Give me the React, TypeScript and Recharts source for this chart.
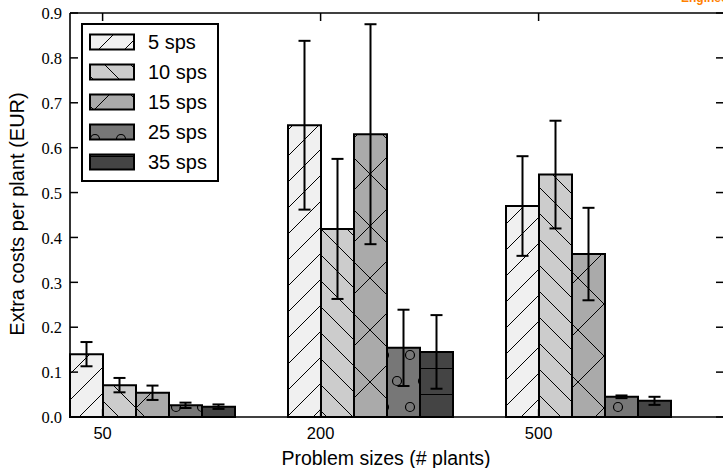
import React from 'react';
import { BarChart, Bar, XAxis, YAxis, ErrorBar, ReferenceLine, Legend } from 'recharts';

const categories = ['50', '200', '500'];
const sps5 = [0.140, 0.650, 0.470];
const sps10 = [0.071, 0.419, 0.540];
const sps15 = [0.054, 0.630, 0.363];
const sps25 = [0.026, 0.154, 0.045];
const sps35 = [0.023, 0.145, 0.036];
const err5 = [0.027, 0.188, 0.111];
const err10 = [0.016, 0.156, 0.120];
const err15 = [0.016, 0.245, 0.103];
const err25 = [0.006, 0.085, 0.003];
const err35 = [0.005, 0.082, 0.009];
const seriesLabels = ['5 sps', '10 sps', '15 sps', '25 sps', '35 sps'];
const seriesKeys = ['s5', 's10', 's15', 's25', 's35'];
const errKeys = ['e5', 'e10', 'e15', 'e25', 'e35'];
const seriesColors = ['#f0f0f0', '#cccccc', '#aaaaaa', '#777777', '#444444'];
const yTicks = [0, 0.1, 0.2, 0.3, 0.4, 0.5, 0.6, 0.7, 0.8, 0.9];

const data = categories.map((c, i) => ({
  name: c,
  s5: sps5[i], s10: sps10[i], s15: sps15[i], s25: sps25[i], s35: sps35[i],
  e5: err5[i], e10: err10[i], e15: err15[i], e25: err25[i], e35: err35[i],
}));

const CHART_W = 740;
const CHART_H = 468;
const PLOT_LEFT = 70;
const PLOT_TOP = 13;
const PLOT_BOTTOM = 417;
const PLOT_RIGHT = 724;
const BAND = (PLOT_RIGHT - PLOT_LEFT) / categories.length;
const CAT_GAP = 27.5;
const BAR_W = (BAND - 2 * CAT_GAP) / 5;

const SANS = '"Liberation Sans", Arial, sans-serif';
const SERIF = '"Liberation Serif", "Times New Roman", serif';

const Patterns = () => (
  <svg width={0} height={0} style={{ position: 'absolute' }}>
    <defs>
      <pattern id="h0" patternUnits="userSpaceOnUse" x={2} y={0} width={26} height={26}>
        <rect width={26} height={26} fill={seriesColors[0]} />
        <line x1={0} y1={26} x2={26} y2={0} stroke="#000" strokeWidth={1} />
        <line x1={-2} y1={2} x2={2} y2={-2} stroke="#000" strokeWidth={1} />
        <line x1={24} y1={28} x2={28} y2={24} stroke="#000" strokeWidth={1} />
      </pattern>
      <pattern id="h1" patternUnits="userSpaceOnUse" x={14} y={0} width={26} height={26}>
        <rect width={26} height={26} fill={seriesColors[1]} />
        <line x1={0} y1={0} x2={26} y2={26} stroke="#000" strokeWidth={1} />
        <line x1={-2} y1={24} x2={2} y2={28} stroke="#000" strokeWidth={1} />
        <line x1={24} y1={-2} x2={28} y2={2} stroke="#000" strokeWidth={1} />
      </pattern>
      <pattern id="h2" patternUnits="userSpaceOnUse" x={344} y={304} width={52} height={52}>
        <rect width={52} height={52} fill={seriesColors[2]} />
        <line x1={0} y1={0} x2={52} y2={52} stroke="#000" strokeWidth={1} />
        <line x1={0} y1={52} x2={52} y2={0} stroke="#000" strokeWidth={1} />
      </pattern>
      <pattern id="h3" patternUnits="userSpaceOnUse" x={397} y={342} width={26} height={52}>
        <rect width={26} height={52} fill={seriesColors[3]} />
        <circle cx={13} cy={13} r={4.5} fill="none" stroke="#000" strokeWidth={1.2} />
        <circle cx={0} cy={39} r={4.5} fill="none" stroke="#000" strokeWidth={1.2} />
        <circle cx={26} cy={39} r={4.5} fill="none" stroke="#000" strokeWidth={1.2} />
      </pattern>
      <pattern id="h4" patternUnits="userSpaceOnUse" x={0} y={4} width={26} height={26}>
        <rect width={26} height={26} fill={seriesColors[4]} />
        <line x1={0} y1={0.5} x2={26} y2={0.5} stroke="#000" strokeWidth={1} />
      </pattern>
    </defs>
  </svg>
);

const XTick = (props: any) => {
  const { x, payload } = props;
  const tx = x - 1.5 * BAR_W;
  return (
    <g>
      <line x1={tx} x2={tx} y1={PLOT_TOP} y2={PLOT_TOP + 8} stroke="#000" strokeWidth={1.5} />
      <line x1={tx} x2={tx} y1={PLOT_BOTTOM} y2={PLOT_BOTTOM - 8} stroke="#000" strokeWidth={1.5} />
      <text x={tx} y={438.5} textAnchor="middle" fontFamily={SANS} fontSize={16.5} fill="#000">
        {payload.value}
      </text>
    </g>
  );
};

const YTick = (props: any) => {
  const { y, payload } = props;
  return (
    <g>
      <line x1={PLOT_LEFT} x2={PLOT_LEFT + 8} y1={y} y2={y} stroke="#000" strokeWidth={1.5} />
      <line x1={PLOT_RIGHT - 8} x2={PLOT_RIGHT} y1={y} y2={y} stroke="#000" strokeWidth={1.5} />
      <text x={62} y={y} dy="0.38em" textAnchor="end" fontFamily={SERIF} fontSize={16.5} fill="#000">
        {Number(payload.value).toFixed(1)}
      </text>
    </g>
  );
};

const YLabel = () => (
  <text
    x={24}
    y={214}
    transform="rotate(-90 24 214)"
    textAnchor="middle"
    fontFamily={SANS}
    fontSize={20}
    fill="#000"
  >
    Extra costs per plant (EUR)
  </text>
);

const XLabel = () => (
  <text x={386} y={465} textAnchor="middle" fontFamily={SANS} fontSize={19.5} fill="#000">
    Problem sizes (# plants)
  </text>
);

const LegendBox = () => (
  <div
    style={{
      width: 134,
      height: 155,
      border: '2px solid #000',
      background: '#fff',
      position: 'relative',
      boxSizing: 'content-box',
    }}
  >
    {seriesLabels.map((lab, i) => (
      <div key={lab} style={{ position: 'absolute', left: 0, top: 7 + i * 30, height: 20, width: 134 }}>
        <svg width={48} height={20} style={{ position: 'absolute', left: 5, top: 0 }}>
          <rect x={2} y={2.5} width={44} height={15} fill={`url(#h${i})`} stroke="#000" strokeWidth={2} />
        </svg>
        <span
          style={{
            position: 'absolute',
            left: 65,
            top: -3,
            fontFamily: SANS,
            fontSize: 20,
            lineHeight: '26px',
            color: '#000',
            whiteSpace: 'nowrap',
          }}
        >
          {lab}
        </span>
      </div>
    ))}
  </div>
);

export default function App() {
  return (
    <div style={{ position: 'absolute', left: 0, top: 0, width: 723, height: 468, overflow: 'hidden', background: '#fff' }}>
      <Patterns />
      <div
        style={{
          position: 'absolute',
          left: 681,
          top: -9,
          fontFamily: SANS,
          fontWeight: 'bold',
          fontSize: 12,
          color: '#ff8000',
          whiteSpace: 'nowrap',
        }}
      >
        Engineering
      </div>
      <BarChart
        width={CHART_W}
        height={CHART_H}
        data={data}
        margin={{ top: PLOT_TOP, right: CHART_W - PLOT_RIGHT, bottom: 0, left: 0 }}
        barCategoryGap={CAT_GAP}
        barGap={0}
      >
        <XAxis
          dataKey="name"
          height={CHART_H - PLOT_BOTTOM}
          padding={{ left: -CAT_GAP, right: CAT_GAP }}
          axisLine={{ stroke: '#000', strokeWidth: 1.6 }}
          tickLine={false}
          tick={<XTick />}
          interval={0}
          label={<XLabel />}
        />
        <YAxis
          width={PLOT_LEFT}
          domain={[0, 0.9]}
          ticks={yTicks}
          axisLine={{ stroke: '#000', strokeWidth: 1.6 }}
          tickLine={false}
          tick={<YTick />}
          interval={0}
          label={<YLabel />}
        />
        <ReferenceLine y={0.9} stroke="#000" strokeWidth={1.6} ifOverflow="visible" />
        {seriesKeys.map((k, i) => (
          <Bar
            key={k}
            dataKey={k}
            name={seriesLabels[i]}
            fill={`url(#h${i})`}
            stroke="#000"
            strokeWidth={2}
            isAnimationActive={false}
          >
            <ErrorBar dataKey={errKeys[i]} width={6} stroke="#000" strokeWidth={2} direction="y" />
          </Bar>
        ))}
        <Legend
          layout="vertical"
          align="center"
          verticalAlign="middle"
          content={<LegendBox />}
          wrapperStyle={{ position: 'absolute', left: 81, top: 23, width: 138, height: 159 }}
        />
      </BarChart>
    </div>
  );
}
